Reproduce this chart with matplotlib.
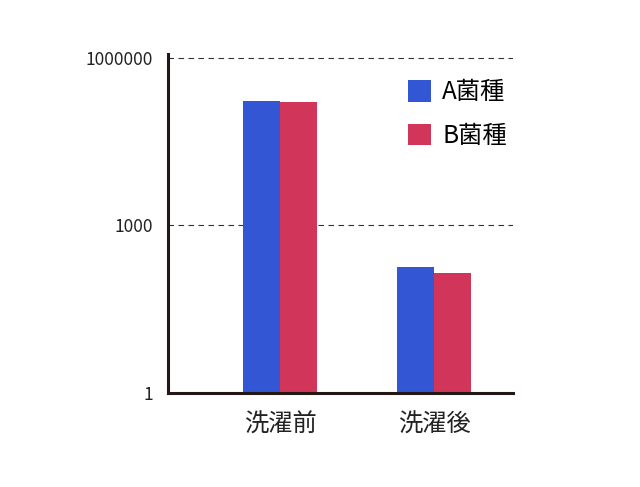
import numpy as np
import matplotlib
matplotlib.use("Agg")
import matplotlib.pyplot as plt
from matplotlib.ticker import FixedLocator, FixedFormatter

plt.rcParams['font.family'] = ['Noto Sans CJK JP', 'DejaVu Sans']

# データ
categories = ["洗濯前", "洗濯後"]
series_names = ["A菌種", "B菌種"]
a_values = [166000, 179]
b_values = [160000, 138]
colors = ["#3357d4", "#d2355a"]

fig = plt.figure(figsize=(6.4, 4.87), dpi=100)
ax = fig.add_axes([0.2625, 0.1936, 0.539, 0.695])

x = np.arange(len(categories))
w = 0.24
ax.bar(x - w/2, a_values, w, color=colors[0], label=series_names[0])
ax.bar(x + w/2, b_values, w, color=colors[1], label=series_names[1])

ax.set_yscale("log")
ax.set_ylim(1, 1.15e6)
ax.set_xlim(-0.727, 1.513)

ax.yaxis.set_major_locator(FixedLocator([1, 1000, 1000000]))
ax.yaxis.set_major_formatter(FixedFormatter(["1", "1000", "1000000"]))
ax.yaxis.set_minor_locator(FixedLocator([]))
ax.tick_params(axis="y", length=0, pad=11, labelsize=12.5, labelcolor="#222222")

ax.set_xticks(x)
ax.set_xticklabels(categories, fontsize=17.5, color="#222222")
ax.tick_params(axis="x", length=0, pad=14)

for yv in [1000, 1000000]:
    ax.axhline(yv, color="#333333", lw=0.8, ls=(0, (5, 4)), zorder=0)

for s in ["top", "right"]:
    ax.spines[s].set_visible(False)
for s in ["left", "bottom"]:
    ax.spines[s].set_linewidth(2.2)
    ax.spines[s].set_color("#231815")

ax.legend(loc="upper left", bbox_to_anchor=(0.696, 0.926), frameon=False,
          borderpad=0, borderaxespad=0,
          fontsize=17.5, handlelength=0.95, handleheight=1.0,
          handletextpad=0.45, labelspacing=0.72)

fig.savefig("out.png", dpi=100)
